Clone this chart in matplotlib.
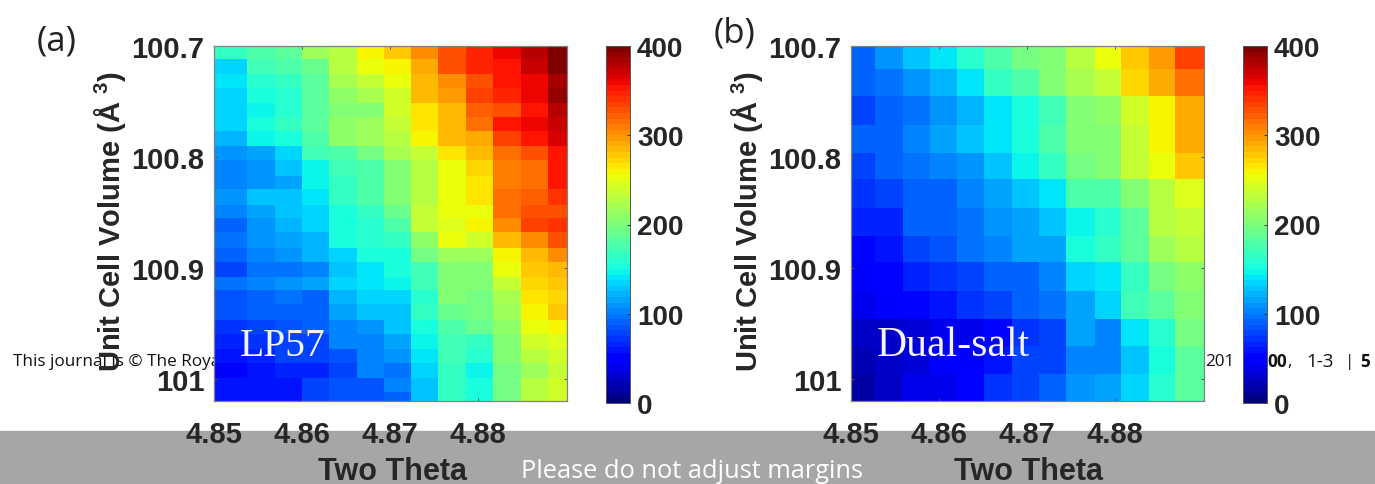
import numpy as np
import matplotlib
matplotlib.use("Agg")
import matplotlib.pyplot as plt
from matplotlib.patches import Rectangle

# === Data ===
lp57_theta_edges = [4.85, 4.8538, 4.8569, 4.8600, 4.8631, 4.8663, 4.8693, 4.8724, 4.8755, 4.8786, 4.8817, 4.8849, 4.8879, 4.8901]
lp57_vol_edges = [100.7, 100.712, 100.725, 100.738, 100.751, 100.764, 100.777, 100.790, 100.803, 100.817, 100.829,
                  100.843, 100.855, 100.868, 100.882, 100.895, 100.908, 100.920, 100.933, 100.947, 100.960,
                  100.973, 100.986, 100.999, 101.012, 101.02]
lp57 = [
    [165, 175, 185, 215, 230, 262, 278, 305, 330, 345, 360, 380, 395],
    [135, 170, 175, 190, 225, 250, 262, 290, 325, 345, 352, 370, 395],
    [140, 160, 165, 185, 222, 232, 250, 285, 300, 330, 350, 358, 385],
    [132, 150, 160, 185, 212, 222, 238, 282, 298, 335, 345, 358, 390],
    [132, 148, 158, 182, 205, 205, 238, 268, 285, 320, 330, 355, 375],
    [132, 150, 168, 185, 210, 218, 235, 268, 282, 318, 352, 360, 372],
    [120, 145, 150, 180, 210, 215, 225, 258, 282, 290, 335, 350, 368],
    [110, 118, 132, 170, 175, 195, 220, 232, 268, 282, 318, 330, 355],
    [100, 112, 125, 145, 170, 178, 205, 228, 255, 272, 312, 318, 355],
    [102, 112, 118, 145, 165, 180, 205, 225, 255, 268, 310, 315, 352],
    [108, 125, 130, 140, 165, 175, 200, 228, 250, 268, 315, 320, 338],
    [102, 118, 125, 135, 155, 165, 190, 235, 250, 250, 315, 325, 328],
    [90, 112, 122, 135, 150, 160, 180, 235, 248, 260, 305, 335, 340],
    [98, 110, 118, 120, 150, 160, 165, 210, 252, 240, 285, 305, 325],
    [90, 100, 112, 120, 135, 155, 155, 195, 215, 215, 260, 285, 305],
    [80, 95, 95, 102, 130, 140, 155, 170, 205, 205, 250, 280, 285],
    [98, 100, 110, 118, 132, 138, 145, 170, 205, 200, 235, 272, 275],
    [85, 90, 95, 92, 122, 135, 135, 160, 200, 195, 220, 265, 270],
    [85, 90, 92, 92, 118, 125, 130, 165, 190, 195, 215, 258, 275],
    [70, 80, 85, 88, 105, 110, 125, 150, 180, 190, 210, 250, 260],
    [65, 70, 78, 80, 100, 105, 115, 145, 170, 165, 205, 240, 245],
    [60, 68, 78, 75, 85, 100, 110, 140, 170, 158, 200, 230, 238],
    [48, 60, 65, 65, 78, 100, 95, 135, 165, 145, 195, 215, 235],
    [58, 62, 62, 75, 85, 85, 100, 130, 165, 155, 195, 225, 240],
    [58, 62, 62, 75, 85, 85, 92, 130, 165, 155, 195, 225, 240],
]

dual_theta_edges = [4.85, 4.8527, 4.8559, 4.8590, 4.8620, 4.8651, 4.8683, 4.8713, 4.8744, 4.8777, 4.8807, 4.8838, 4.8868, 4.8901]
dual_vol_edges = [100.7, 100.721, 100.745, 100.771, 100.796, 100.820, 100.846, 100.871, 100.895, 100.921, 100.946, 100.970, 100.996, 101.02]
dual_salt = [
    [90, 112, 128, 138, 160, 175, 195, 200, 225, 250, 280, 295, 335],
    [92, 98, 112, 122, 140, 165, 175, 200, 222, 232, 272, 290, 315],
    [80, 92, 95, 110, 122, 140, 155, 170, 205, 210, 240, 262, 292],
    [88, 88, 105, 115, 125, 140, 150, 175, 205, 205, 235, 262, 290],
    [80, 88, 98, 100, 112, 130, 145, 165, 195, 200, 232, 250, 278],
    [72, 78, 88, 88, 105, 115, 130, 138, 175, 180, 205, 225, 245],
    [65, 68, 90, 90, 98, 112, 118, 130, 145, 160, 185, 225, 235],
    [55, 60, 78, 85, 95, 100, 118, 118, 150, 165, 185, 215, 225],
    [45, 55, 65, 72, 78, 92, 92, 105, 135, 140, 165, 195, 210],
    [40, 45, 55, 58, 70, 80, 92, 95, 115, 135, 170, 185, 205],
    [25, 30, 35, 40, 42, 55, 70, 75, 118, 100, 140, 160, 195],
    [20, 25, 35, 45, 45, 62, 75, 75, 100, 105, 130, 155, 185],
    [15, 30, 40, 42, 50, 70, 80, 90, 110, 118, 135, 160, 185],
]

theta_ticks = [4.85, 4.86, 4.87, 4.88]
theta_labels = ["4.85", "4.86", "4.87", "4.88"]
vol_ticks = [100.7, 100.8, 100.9, 101.0]
vol_labels = ["100.7", "100.8", "100.9", "101"]
cbar_ticks = [0, 100, 200, 300, 400]

# === Style ===
W, H = 1375, 485
DARK = "#262626"
plt.rcParams["font.family"] = ["Liberation Sans", "DejaVu Sans"]
plt.rcParams["mathtext.fontset"] = "custom"
plt.rcParams["mathtext.bf"] = "Liberation Sans:bold"
plt.rcParams["mathtext.rm"] = "Liberation Sans:bold"
plt.rcParams["mathtext.default"] = "bf"
jet64 = plt.get_cmap("jet", 64)


def px_axes(fig, left, top, right, bottom):
    return fig.add_axes([left / W, 1 - bottom / H, (right - left) / W, (bottom - top) / H])


def px_text(fig, x, y, s, **kw):
    kw.setdefault("va", "center")
    kw.setdefault("zorder", -1)
    return fig.text(x / W, 1 - y / H, s, **kw)


def draw_panel(fig, left, values, x_edges, y_edges, name, name_x, name_size):
    right = left + 353
    ax = px_axes(fig, left, 47, right, 402)
    mesh = ax.pcolormesh(x_edges, y_edges, np.array(values), cmap=jet64, vmin=0, vmax=400)
    ax.set_xlim(4.85, 4.8901)
    ax.set_ylim(101.02, 100.7)
    ax.set_xticks(theta_ticks, theta_labels)
    ax.set_yticks(vol_ticks, vol_labels)
    ax.tick_params(axis="x", direction="in", length=2, width=0.7, color="#555555", pad=14, top=True,
                   labelsize=21, labelcolor=DARK)
    ax.tick_params(axis="y", direction="in", length=2, width=0.7, color="#555555", pad=7, right=True,
                   labelsize=21, labelcolor=DARK)
    for lab in ax.get_xticklabels() + ax.get_yticklabels():
        lab.set_fontweight("bold")
    for sp in ax.spines.values():
        sp.set_color("#808080")
        sp.set_linewidth(0.9)
    px_text(fig, name_x, 346, name, color="#f4f4f4", family="Liberation Serif", fontsize=name_size, zorder=5)
    px_text(fig, left - 104, 222, "Unit Cell Volume (Å $^{3}$)", rotation=90, ha="center", color=DARK,
            fontweight="bold", fontsize=21, zorder=5)
    px_text(fig, left + 178, 472, "Two Theta", ha="center", color=DARK, fontweight="bold", fontsize=22, zorder=5)

    cax = px_axes(fig, left + 392, 47, left + 416, 404)
    cbar = fig.colorbar(mesh, cax=cax)
    cbar.set_ticks(cbar_ticks)
    cbar.ax.tick_params(direction="in", length=2, width=0.7, color="#333333", pad=5, labelsize=20, labelcolor=DARK)
    for lab in cbar.ax.get_yticklabels():
        lab.set_fontweight("bold")
    cbar.outline.set_edgecolor("#555555")
    cbar.outline.set_linewidth(0.7)


# === Figure ===
fig = plt.figure(figsize=(W / 100, H / 100), dpi=100, facecolor="white")
fig.patches.append(Rectangle((0, 0), 1, (H - 432) / H, transform=fig.transFigure, color="#a6a6a6", zorder=-2))

draw_panel(fig, 214, lp57, lp57_theta_edges, lp57_vol_edges, "LP57", 240, 28.5)
draw_panel(fig, 851, dual_salt, dual_theta_edges, dual_vol_edges, "Dual-salt", 877, 30)

px_text(fig, 37, 42, "(a)", family="Open Sans", fontsize=25, color="#222222")
px_text(fig, 714, 33, "(b)", family="Open Sans", fontsize=25, color="#222222")
px_text(fig, 692, 472, "Please do not adjust margins", ha="center", family="Open Sans", fontsize=18.3, color="white")
px_text(fig, 13, 362, "This journal is © The Royal", family="Open Sans", fontsize=12.3, color="#111111")
px_text(fig, 1205, 362, "201", family="Open Sans", fontsize=12.3, color="#111111")
px_text(fig, 1267, 362, "00", family="Open Sans", fontweight="bold", fontsize=12.3, color="#111111")
px_text(fig, 1287, 362, ",", family="Open Sans", fontsize=12.3, color="#111111")
px_text(fig, 1306, 362, "1-3", family="Open Sans", fontsize=13.5, color="#111111")
px_text(fig, 1345, 362, "|", family="Open Sans", fontsize=12.3, color="#111111")
px_text(fig, 1360, 362, "5", family="Open Sans", fontweight="bold", fontsize=12.3, color="#111111")

fig.savefig("out.png", dpi=100)
